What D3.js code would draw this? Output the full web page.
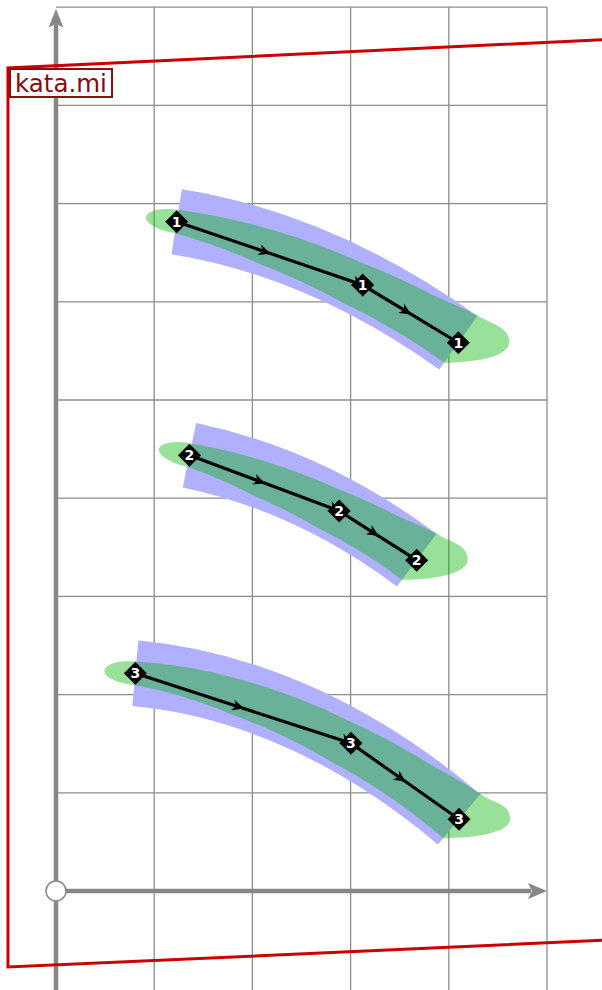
<!DOCTYPE html>
<html><head><meta charset="utf-8">
<script src="https://cdn.jsdelivr.net/npm/d3@7"></script>
<style>html,body{margin:0;padding:0;background:#fff;} svg{display:block}</style>
</head><body>
<svg id="chart" width="602" height="990"></svg>
<script>
// ---- data (grid units) ----
const xTicks = [0, 1, 2, 3, 4, 5];
const yTicks = [1, 2, 3, 4, 5, 6, 7, 8, 9];
const kataLabels = ["1", "2", "3"];
const kata1 = [[1.229, 6.816], [3.123, 6.171], [4.097, 5.583]];
const kata2 = [[1.359, 4.438], [2.884, 3.870], [3.673, 3.369]];
const kata3 = [[0.808, 2.217], [3.004, 1.504], [4.104, 0.730]];
const bandCtrl1 = [[2.276, 6.649], [3.250, 6.187]];
const bandCtrl2 = [[2.197, 4.263], [2.989, 3.882]];
const bandCtrl3 = [[2.035, 2.105], [3.165, 1.525]];
const bandWidth = 0.67;
const greenT = [0, 0.3, 0.6, 0.85, 1];
const greenTop = [0.12, 0.15, 0.19, 0.26, 0.34];
const greenBot = [0.12, 0.22, 0.26, 0.25, 0.25];
const greenCapLeft = 0.317;
const greenCapRight = 0.52;
const frame = [[5.8, 8.68], [-0.489, 8.381], [-0.489, -0.774], [5.8, -0.492]];
const brandText = "kata.mi";

// ---- setup ----
const W = 602, H = 990;
const svg = d3.select("#chart");
const x = d3.scaleLinear().domain([0, 5]).range([56, 547]);
const y = d3.scaleLinear().domain([0, 9]).range([891, 7.2]);
const unit = x(1) - x(0);
const GRID = "#8c8c8c", AX = "#878787";

// grid
const gGrid = svg.append("g");
gGrid.selectAll("line.v").data(xTicks.slice(1)).join("line").attr("class", "v")
  .attr("x1", d => x(d)).attr("x2", d => x(d)).attr("y1", y(9)).attr("y2", H)
  .attr("stroke", GRID).attr("stroke-width", 1.3);
gGrid.selectAll("line.h").data(yTicks).join("line").attr("class", "h")
  .attr("x1", x(0)).attr("x2", x(5)).attr("y1", d => y(d)).attr("y2", d => y(d))
  .attr("stroke", GRID).attr("stroke-width", 1.3);

// axes
const gAx = svg.append("g");
gAx.append("line").attr("x1", x(0)).attr("x2", x(0)).attr("y1", H).attr("y2", y(9) + 16)
  .attr("stroke", AX).attr("stroke-width", 4.5);
gAx.append("line").attr("x1", x(0)).attr("x2", x(5) - 16).attr("y1", y(0)).attr("y2", y(0))
  .attr("stroke", AX).attr("stroke-width", 4.5);
{
  const tx = x(0), ty = y(9) + 1.5;
  gAx.append("path").attr("d", `M${tx},${ty}L${tx + 7.5},${ty + 19}L${tx},${ty + 15}L${tx - 7.5},${ty + 19}Z`).attr("fill", AX);
  const hx = x(5), hy = y(0);
  gAx.append("path").attr("d", `M${hx},${hy}L${hx - 19},${hy - 8}L${hx - 15},${hy}L${hx - 19},${hy + 8}Z`).attr("fill", AX);
}
gAx.append("circle").attr("cx", x(0)).attr("cy", y(0)).attr("r", 10)
  .attr("fill", "#fff").attr("stroke", AX).attr("stroke-width", 1.5);

// helpers
const P = d => [x(d[0]), y(d[1])];
function cub(p0, c1, c2, p3, t) {
  const m = 1 - t;
  return [m*m*m*p0[0] + 3*m*m*t*c1[0] + 3*m*t*t*c2[0] + t*t*t*p3[0],
          m*m*m*p0[1] + 3*m*m*t*c1[1] + 3*m*t*t*c2[1] + t*t*t*p3[1]];
}
function cubD(p0, c1, c2, p3, t) {
  const m = 1 - t;
  return [3*m*m*(c1[0]-p0[0]) + 6*m*t*(c2[0]-c1[0]) + 3*t*t*(p3[0]-c2[0]),
          3*m*m*(c1[1]-p0[1]) + 6*m*t*(c2[1]-c1[1]) + 3*t*t*(p3[1]-c2[1])];
}

// arrow marker
const defs = svg.append("defs");
defs.append("marker").attr("id", "arr").attr("markerUnits", "userSpaceOnUse")
  .attr("viewBox", "-2 -8 16 16").attr("markerWidth", 16).attr("markerHeight", 16)
  .attr("refX", 11).attr("refY", 0).attr("orient", "auto")
  .append("path").attr("d", "M0,-5.5L12,0L0,5.5L3.5,0Z").attr("fill", "#000");

const groups = [
  { pts: kata1, ctrl: bandCtrl1, label: kataLabels[0] },
  { pts: kata2, ctrl: bandCtrl2, label: kataLabels[1] },
  { pts: kata3, ctrl: bandCtrl3, label: kataLabels[2] }
];
const topS = d3.scaleLinear().domain(greenT).range(greenTop);
const botS = d3.scaleLinear().domain(greenT).range(greenBot);

groups.forEach(g => {
  const p0 = P(g.pts[0]), p3 = P(g.pts[2]);
  const c1 = P(g.ctrl[0]), c2 = P(g.ctrl[1]);
  const gg = svg.append("g");
  // blue band
  const bp = d3.path();
  bp.moveTo(p0[0], p0[1]); bp.bezierCurveTo(c1[0], c1[1], c2[0], c2[1], p3[0], p3[1]);
  gg.append("path").attr("d", bp.toString()).attr("fill", "none")
    .attr("stroke", "#b0b0ff").attr("stroke-width", bandWidth * unit).attr("stroke-linecap", "butt");
  // green shape
  const N = 80, top = [], bot = [];
  for (let i = 0; i <= N; i++) {
    const t = i / N;
    const c = cub(p0, c1, c2, p3, t), dd = cubD(p0, c1, c2, p3, t);
    const L = Math.hypot(dd[0], dd[1]);
    const n = [dd[1] / L, -dd[0] / L];
    const ht = topS(t) * unit, hb = botS(t) * unit;
    top.push([c[0] + n[0] * ht, c[1] + n[1] * ht]);
    bot.push([c[0] - n[0] * hb, c[1] - n[1] * hb]);
  }
  const dEnd = cubD(p0, c1, c2, p3, 1), Le = Math.hypot(dEnd[0], dEnd[1]);
  const ue = [dEnd[0] / Le, dEnd[1] / Le];
  const d0 = cubD(p0, c1, c2, p3, 0);
  const ang0 = Math.atan2(d0[1], d0[0]) * 180 / Math.PI;
  const T = top[N], B = bot[N];
  const tip = [p3[0] + greenCapRight * unit, p3[1] - 0.5];
  let s = "M" + top.map(q => q.join(",")).join("L");
  s += `C${T[0] + ue[0] * 14},${T[1] + ue[1] * 14} ${tip[0]},${tip[1] - 16} ${tip[0]},${tip[1]}`;
  s += `C${tip[0]},${tip[1] + 14} ${B[0] + 32},${B[1]} ${B[0]},${B[1]}`;
  s += "L" + bot.slice().reverse().map(q => q.join(",")).join("L");
  const hw0 = greenBot[0] * unit;
  s += `A${greenCapLeft * unit},${hw0} ${ang0} 0 1 ${top[0][0]},${top[0][1]}Z`;
  gg.append("path").attr("d", s).attr("fill", "rgb(0,180,0)").attr("fill-opacity", 0.4);
  // path line with arrows at midpoints
  const pp = g.pts.map(P);
  const withMid = [pp[0], [(pp[0][0] + pp[1][0]) / 2, (pp[0][1] + pp[1][1]) / 2], pp[1],
                   [(pp[1][0] + pp[2][0]) / 2, (pp[1][1] + pp[2][1]) / 2], pp[2]];
  gg.append("path").attr("d", d3.line()(withMid)).attr("fill", "none")
    .attr("stroke", "#000").attr("stroke-width", 3.2).attr("marker-mid", "url(#arr)");
  // diamonds
  const mk = gg.selectAll("g.mk").data(pp).join("g").attr("class", "mk")
    .attr("transform", d => `translate(${d[0]},${d[1]})`);
  mk.append("path").attr("d", "M0,-11.5L11.5,0L0,11.5L-11.5,0Z").attr("fill", "#000");
  mk.append("text").text(g.label).attr("text-anchor", "middle").attr("dy", "0.36em")
    .attr("fill", "#fff").attr("font-family", "DejaVu Sans, sans-serif").attr("font-weight", "bold").attr("font-size", 14);
});

// red frame
svg.append("path").attr("d", d3.line()(frame.map(P))).attr("fill", "none")
  .attr("stroke", "#cc0000").attr("stroke-width", 3);

// brand label
svg.append("rect").attr("x", 10).attr("y", 69).attr("width", 102).attr("height", 28)
  .attr("fill", "#fff").attr("stroke", "#8b1010").attr("stroke-width", 2);
svg.append("text").text(brandText).attr("x", 61).attr("y", 91.5).attr("text-anchor", "middle")
  .attr("font-family", "DejaVu Sans, sans-serif").attr("font-size", 24.5).attr("fill", "#8b0a0a");
</script>
</body></html>
